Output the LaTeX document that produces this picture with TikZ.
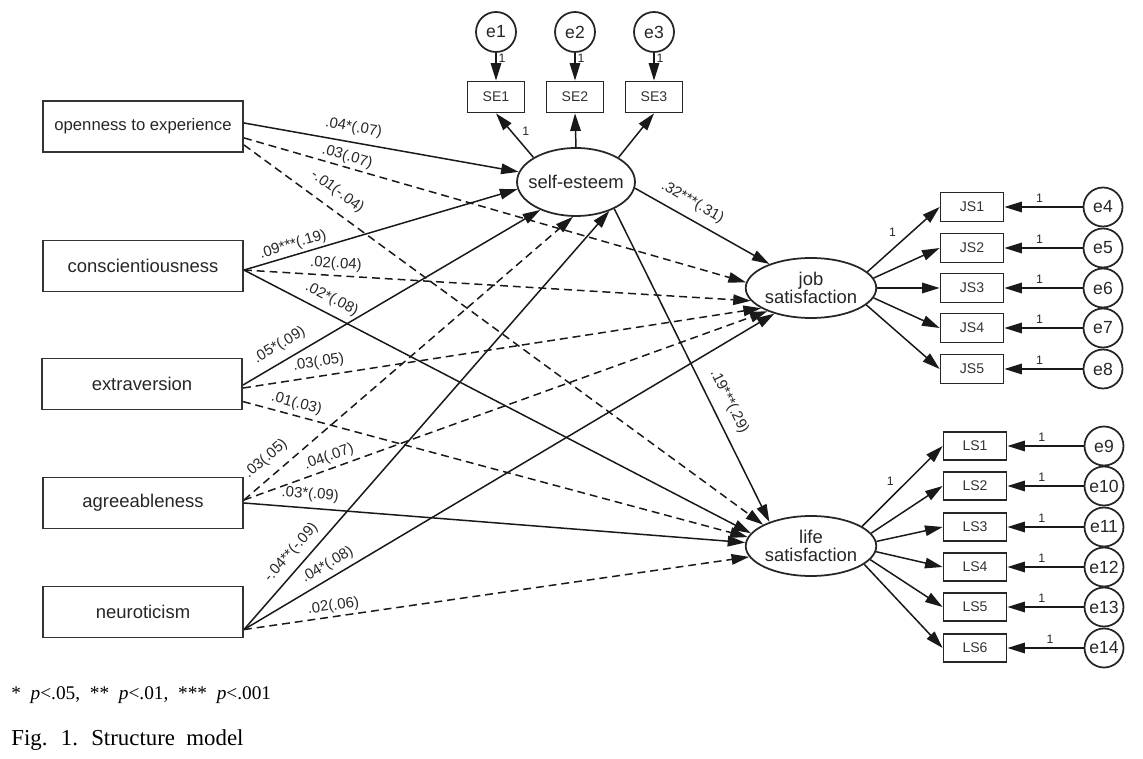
\documentclass[tikz,border=0pt]{standalone}
\usepackage{fontspec}
\setmainfont{Liberation Sans}
\newfontfamily\notefont{Liberation Serif}
\newfontfamily\capfont[WordSpace=2]{Liberation Serif}
\usetikzlibrary{arrows.meta,positioning,shapes.geometric}

\begin{document}
\begin{tikzpicture}[x=0.02cm, y=-0.02cm,
  obsbox/.style={draw=black!80, line width=1.1pt, minimum width=4cm, minimum height=1.02cm, font=\fontsize{10.5}{12}\selectfont, text=black!85},
  indbox/.style={draw=black!85, line width=1pt, minimum width=1.26cm, minimum height=0.58cm, inner sep=0pt, font=\fontsize{8}{9}\selectfont, text=black!80},
  latent/.style={ellipse, draw=black!85, line width=1pt, inner sep=0pt, align=center, font=\fontsize{10.5}{10.5}\selectfont, text=black!85},
  errc/.style={circle, draw=black!85, line width=1pt, minimum size=0.78cm, inner sep=0pt, font=\fontsize{10}{11}\selectfont, text=black!85},
  sig/.style={-{Triangle[length=10pt,width=6pt]}, line width=0.85pt, black!90},
  nsig/.style={sig, dash pattern=on 4.5pt off 2.8pt},
  coef/.style={sloped, above, inner sep=1.5pt, font=\fontsize{8.5}{9}\selectfont, text=black!85},
  one/.style={inner sep=1pt, font=\fontsize{7}{8}\selectfont, text=black!85}
]
  \useasboundingbox (0,0) rectangle (1143,759);

  % Personality traits
  \node[obsbox, font=\fontsize{9.5}{11}\selectfont] (open) at (143,126.5) {openness to experience};
  \node[obsbox] (consc) at (143,266) {conscientiousness};
  \node[obsbox] (extra) at (142,384) {extraversion};
  \node[obsbox] (agree) at (143,503) {agreeableness};
  \node[obsbox] (neuro) at (143,612) {neuroticism};

  % Latent variables
  \node[latent, inner xsep=-3.5pt, minimum width=2.36cm, minimum height=1.36cm] (se) at (576,182) {self-esteem};
  \node[latent, minimum width=2.56cm, minimum height=1.2cm] (job) at (811,288) {job\\satisfaction};
  \node[latent, minimum width=2.56cm, minimum height=1.2cm] (life) at (811,546) {life\\satisfaction};

  % Self-esteem indicators
  \node[indbox, minimum width=1.14cm, minimum height=0.62cm] (se1) at (496,97) {SE1};
  \node[indbox, minimum width=1.14cm, minimum height=0.62cm] (se2) at (575,97) {SE2};
  \node[indbox, minimum width=1.14cm, minimum height=0.62cm] (se3) at (654,97) {SE3};
  \node[errc, minimum size=0.8cm] (e1) at (496,32) {e1};
  \node[errc, minimum size=0.8cm] (e2) at (575,32) {e2};
  \node[errc, minimum size=0.8cm] (e3) at (654,32) {e3};
  \draw[sig] (e1) -- node[one, right, pos=0.2] {1} (se1);
  \draw[sig] (e2) -- node[one, right, pos=0.2] {1} (se2);
  \draw[sig] (e3) -- node[one, right, pos=0.2] {1} (se3);
  \draw[sig] (se.150) -- node[one, right=5pt, pos=0.6] {1} (se1.south);
  \draw[sig] (se.north) -- (se2.south);
  \draw[sig] (se.30) -- (se3.south);

  % Job satisfaction indicators
  \node[indbox] (js1) at (972,207) {JS1};
  \node[indbox] (js2) at (972,248) {JS2};
  \node[indbox] (js3) at (972,288) {JS3};
  \node[indbox] (js4) at (972,328) {JS4};
  \node[indbox] (js5) at (972,369) {JS5};
  \node[errc] (e4) at (1103,207) {e4};
  \node[errc] (e5) at (1103,248) {e5};
  \node[errc] (e6) at (1103,288) {e6};
  \node[errc] (e7) at (1103,328) {e7};
  \node[errc] (e8) at (1103,369) {e8};
  \draw[sig] (job.16) -- node[one, above=6pt, pos=0.35] {1} (js1.west);
  \draw[sig] (job.9) -- (js2.west);
  \draw[sig] (job.0) -- (js3.west);
  \draw[sig] (job.-9) -- (js4.west);
  \draw[sig] (job.-17) -- (js5.west);
  \draw[sig] (e4) -- node[one, above=1pt, pos=0.55] {1} (js1);
  \draw[sig] (e5) -- node[one, above=1pt, pos=0.55] {1} (js2);
  \draw[sig] (e6) -- node[one, above=1pt, pos=0.55] {1} (js3);
  \draw[sig] (e7) -- node[one, above=1pt, pos=0.55] {1} (js4);
  \draw[sig] (e8) -- node[one, above=1pt, pos=0.55] {1} (js5);

  % Life satisfaction indicators
  \node[indbox, minimum height=0.56cm] (ls1) at (975,446) {LS1};
  \node[indbox, minimum height=0.56cm] (ls2) at (975,486) {LS2};
  \node[indbox, minimum height=0.56cm] (ls3) at (975,527) {LS3};
  \node[indbox, minimum height=0.56cm] (ls4) at (975,567) {LS4};
  \node[indbox, minimum height=0.56cm] (ls5) at (975,607) {LS5};
  \node[indbox, minimum height=0.56cm] (ls6) at (975,648) {LS6};
  \node[errc] (e9) at (1104,446) {e9};
  \node[errc] (e10) at (1104,486) {e10};
  \node[errc] (e11) at (1104,527) {e11};
  \node[errc] (e12) at (1104,567) {e12};
  \node[errc] (e13) at (1104,607) {e13};
  \node[errc] (e14) at (1104,648) {e14};
  \draw[sig] (life.21) -- node[one, above=6pt, pos=0.35] {1} (ls1.west);
  \draw[sig] (life.12) -- (ls2.west);
  \draw[sig] (life.4) -- (ls3.west);
  \draw[sig] (life.-5) -- (ls4.west);
  \draw[sig] (life.-13) -- (ls5.west);
  \draw[sig] (life.-19) -- (ls6.west);
  \draw[sig] (e9) -- node[one, above=1pt, pos=0.55] {1} (ls1);
  \draw[sig] (e10) -- node[one, above=1pt, pos=0.55] {1} (ls2);
  \draw[sig] (e11) -- node[one, above=1pt, pos=0.55] {1} (ls3);
  \draw[sig] (e12) -- node[one, above=1pt, pos=0.55] {1} (ls4);
  \draw[sig] (e13) -- node[one, above=1pt, pos=0.55] {1} (ls5);
  \draw[sig] (e14) -- node[one, above=1pt, pos=0.44] {1} (ls6);

  % Paths: openness
  \draw[sig] ([yshift=2pt]open.east) -- node[coef, above=2.3pt, pos=0.39] {.04*(.07)} (se.170);
  \draw[nsig] ([yshift=-6.5pt]open.east) -- node[coef, pos=0.2] {.03(.07)} (job.175);
  \draw[nsig] ([yshift=-10.5pt]open.east) -- node[coef, above=4pt, pos=0.16] {-.01(-.04)} (life.156);

  % Paths: conscientiousness
  \draw[sig] ([yshift=-2.3pt]consc.east) -- node[coef, pos=0.19] {.09***(.19)} (se.187);
  \draw[nsig] ([yshift=-2.3pt]consc.east) -- node[coef, above=0.7pt, pos=0.18] {.02(.04)} (job.192);
  \draw[sig] ([yshift=-2.3pt]consc.east) -- node[coef, above=2.4pt, pos=0.16] {.02*(.08)} (life.168);

  % Paths: extraversion
  \draw[sig] ([yshift=-0.6pt]extra.east) -- node[coef, above=3pt, pos=0.15] {.05*(.09)} (se.218);
  \draw[nsig] ([yshift=-2.3pt]extra.east) -- node[coef, above=1.8pt, pos=0.15] {.03(.05)} (job.202);
  \draw[nsig] ([yshift=-10pt]extra.east) -- node[coef, above=0.8pt, pos=0.1] {.01(.03)} (life.172);

  % Paths: agreeableness
  \draw[nsig] ([yshift=1.7pt]agree.east) -- node[coef, above=3.7pt, pos=0.1] {.03(.05)} (se.265);
  \draw[nsig] ([yshift=1.7pt]agree.east) -- node[coef, above=0.8pt, pos=0.17] {.04(.07)} (job.208);
  \draw[sig] (agree.east) -- node[coef, above=1.9pt, pos=0.13] {.03*(.09)} (life.177);

  % Paths: neuroticism
  \draw[sig] ([yshift=-10pt]neuro.east) -- node[coef, above=2.6pt, pos=0.16] {-.04**(-.09)} (se.319);
  \draw[sig] ([yshift=-10pt]neuro.east) -- node[coef, above=1.4pt, pos=0.17] {.04*(.08)} (job.215);
  \draw[nsig] ([yshift=-10pt]neuro.east) -- node[coef, pos=0.18] {.02(.06)} (life.190);

  % Paths: self-esteem
  \draw[sig] (se.354) -- node[coef, above=3.2pt, pos=0.37] {.32***(.31)} (job.150);
  \draw[sig] (se.325) -- node[coef, above=4pt, pos=0.64] {.19***(.29)} (life.150);

  % Notes
  \node[anchor=west, inner sep=0pt, font=\notefont\fontsize{11}{13}\selectfont] (note) at (11,695) {* \textit{p}<.05, ** \textit{p}<.01, *** \textit{p}<.001};
  \node[anchor=west, inner sep=0pt, font=\capfont\fontsize{13}{15}\selectfont] (cap) at (11,740) {Fig. 1. Structure model};
\end{tikzpicture}
\end{document}
